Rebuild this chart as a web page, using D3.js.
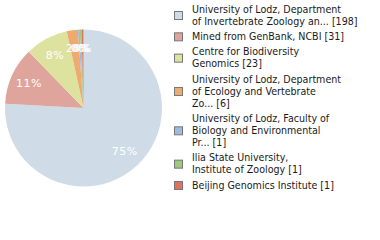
<!DOCTYPE html>
<html>
<head>
<meta charset="utf-8">
<script src="https://cdn.jsdelivr.net/npm/d3@7"></script>
<style>
  body { margin: 0; background: #fff; }
  svg { display: block; }
</style>
</head>
<body>
<svg id="chart" width="380" height="240"></svg>
<script>
// data
const names = [
  ['University of Lodz, Department', 'of Invertebrate Zoology an... [198]'],
  ['Mined from GenBank, NCBI [31]'],
  ['Centre for Biodiversity', 'Genomics [23]'],
  ['University of Lodz, Department', 'of Ecology and Vertebrate', 'Zo... [6]'],
  ['University of Lodz, Faculty of', 'Biology and Environmental', 'Pr... [1]'],
  ['Ilia State University,', 'Institute of Zoology [1]'],
  ['Beijing Genomics Institute [1]']
];
const counts = [198, 31, 23, 6, 1, 1, 1];
const colors = ['#cfdbe7', '#dfa59c', '#dde39f', '#efab6e', '#9dbbdc', '#9dcb7b', '#e0735f'];

const svg = d3.select('#chart');
const total = d3.sum(counts);
const data = counts.map((v, i) => ({ i, value: v }));

const pie = d3.pie().sort(null).value(d => d.value);
const arc = d3.arc().innerRadius(0).outerRadius(78.5);
const labelArc = d3.arc().innerRadius(60).outerRadius(60);

const g = svg.append('g').attr('transform', 'translate(83.5,108)');

g.selectAll('path')
  .data(pie(data))
  .enter()
  .append('path')
  .attr('d', arc)
  .attr('fill', d => colors[d.data.i]);

// percentage labels (floored like the original)
g.selectAll('text')
  .data(pie(data))
  .enter()
  .append('text')
  .attr('transform', d => `translate(${labelArc.centroid(d)})`)
  .attr('text-anchor', 'middle')
  .attr('dy', '0.35em')
  .attr('fill', '#fff')
  .style('font-family', 'DejaVu Sans')
  .style('font-size', '11px')
  .style('letter-spacing', '0.5px')
  .text(d => Math.floor(d.data.value / total * 100) + '%');

// Legend
const lineH = 12, gap = 3.33;
let y = 9;
const legend = svg.append('g');
names.forEach((lines, i) => {
  const item = legend.append('g');
  lines.forEach((t, k) => {
    item.append('text')
      .attr('x', 192)
      .attr('y', y + k * lineH)
      .attr('dy', '0.35em')
      .attr('fill', '#1a1a1a')
      .style('font-family', 'DejaVu Sans Condensed')
      .style('font-size', '10.6px')
      .text(t);
  });
  const mid = y + (lines.length - 1) * lineH / 2;
  item.append('rect')
    .attr('x', 174.5)
    .attr('y', mid - 3.5)
    .attr('width', 8)
    .attr('height', 8)
    .attr('fill', colors[i])
    .attr('stroke', '#777')
    .attr('stroke-width', 1);
  y += lines.length * lineH + gap;
});
</script>
</body>
</html>
